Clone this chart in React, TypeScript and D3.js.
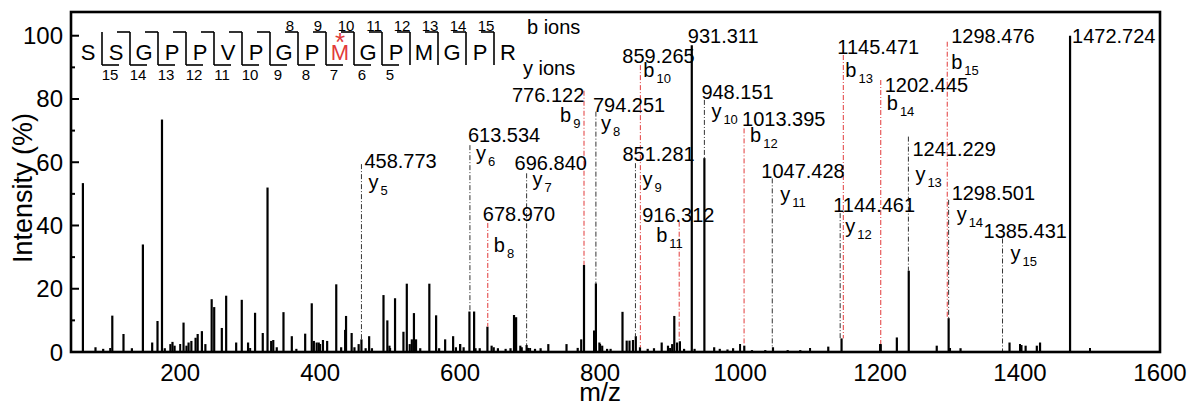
import React, {useEffect, useRef} from 'react';
import * as d3 from 'd3';

// MS/MS peak list: [m/z, relative intensity %]
const peaks: [number, number][] = [
  [61, 53.4], [79, 1.5], [90, 1], [103, 11.5], [119, 5.7], [131, 1.2], [146.7, 34], [160, 3], [167.6, 9.8],
  [174, 73.5], [178, 1.2], [186, 2.5], [189, 3.2], [192, 2], [204.8, 9.3], [209, 2], [212, 3], [216, 3.5],
  [222, 4.5], [225, 5.7], [231, 6.6], [236, 2.5], [245, 16.7], [248.6, 14.2], [259.5, 7.6], [265.7, 17.8],
  [280, 3], [288, 16.5], [297, 3], [307, 12.4], [318, 6], [324.8, 52], [330, 3.5], [333, 3.8], [338, 1.5],
  [347.6, 12.6], [359.5, 5], [366, 1], [378.6, 5.8], [388, 15.4], [391, 3.5], [395, 3], [398, 3], [404, 3.8],
  [410, 3.5], [423, 21.4], [430, 1.5], [435.7, 7], [437, 11.4], [445, 6], [449, 1.5], [455, 2.5], [459, 4],
  [465, 1.2], [470, 5], [474, 1.2], [490.5, 18], [496, 10], [499, 2], [507, 17], [519, 6.4], [523.8, 21.6],
  [528, 2.5], [531, 4], [534, 12.3], [537, 4], [543, 1.2], [556, 21.6], [565.7, 11.6], [570, 1.2],
  [578.6, 4], [590, 5], [594, 1.5], [600, 2.5], [605, 1.5], [613.3, 12.8], [620, 12.8], [622, 1.2],
  [628, 1.2], [639, 8], [645, 2], [648, 1.5], [654, 1.2], [665, 1], [672, 1.2], [677, 11.7], [680, 11],
  [686, 2], [688, 1.5], [695, 2.2], [697, 1.3], [707, 1], [715, 1.2], [726, 2.5], [752, 2.5], [768, 1.3],
  [773, 4], [777, 27.5], [791.4, 6.8], [794, 21.7], [799, 3], [803, 2], [810, 1], [815, 1], [832, 12.7],
  [838, 3.6], [842, 3.6], [847, 3.8], [851, 5], [857, 1.5], [868, 1], [877, 1.2], [888, 3], [897, 2],
  [903, 2.5], [906, 11.4], [910, 3], [914, 3.4], [920, 1], [931, 97], [935, 1], [949, 61.3], [963, 1.5],
  [971, 1], [982, 0.8], [990, 1.2], [1006, 2], [1017, 0.6], [1036, 0.6], [1047, 1.5], [1068, 0.6],
  [1086, 0.6], [1126, 1.7], [1145, 4.3], [1201, 2.5], [1224, 4.6], [1241, 25.7], [1281, 2], [1298, 10.7],
  [1315, 1.2], [1385, 3], [1402, 2.2], [1408, 2], [1424, 2], [1428.6, 3], [1471.5, 100]
];

// annotated fragments: where the marker line sits, its top (%), the label and the ion name
const annotations = [
  {mz: 459, tip: 59.4, text: '458.773', ion: 'y', num: '5'},
  {mz: 614, tip: 65.4, text: '613.534', ion: 'y', num: '6'},
  {mz: 695, tip: 56.5, text: '696.840', ion: 'y', num: '7'},
  {mz: 639.5, tip: 40.8, text: '678.970', ion: 'b', num: '8'},
  {mz: 777, tip: 82.6, text: '776.122', ion: 'b', num: '9'},
  {mz: 794, tip: 76, text: '794.251', ion: 'y', num: '8'},
  {mz: 850.5, tip: 59.7, text: '851.281', ion: 'y', num: '9'},
  {mz: 857.5, tip: 90.7, text: '859.265', ion: 'b', num: '10'},
  {mz: 913, tip: 41.2, text: '916.312', ion: 'b', num: '11'},
  {mz: 931, tip: 97, text: '931.311', ion: '', num: ''},
  {mz: 949, tip: 79.7, text: '948.151', ion: 'y', num: '10'},
  {mz: 1005.7, tip: 70.7, text: '1013.395', ion: 'b', num: '12'},
  {mz: 1046, tip: 54.9, text: '1047.428', ion: 'y', num: '11'},
  {mz: 1143, tip: 43.9, text: '1144.461', ion: 'y', num: '12'},
  {mz: 1147.5, tip: 93.9, text: '1145.471', ion: 'b', num: '13'},
  {mz: 1201, tip: 86, text: '1202.445', ion: 'b', num: '14'},
  {mz: 1240.5, tip: 68.1, text: '1241.229', ion: 'y', num: '13'},
  {mz: 1296, tip: 98.1, text: '1298.476', ion: 'b', num: '15'},
  {mz: 1298, tip: 48.1, text: '1298.501', ion: 'y', num: '14'},
  {mz: 1375, tip: 35.9, text: '1385.431', ion: 'y', num: '15'},
  {mz: 1471.5, tip: 100, text: '1472.724', ion: '', num: ''}
];

// label placement (px) relative to the line top: [number dx, number baseline dy, ion dx, ion baseline dy]
const labelLayout = [
  [3, 4, 7, 25], [-2, -3, 6, 15], [-12, -3, 6, 13], [-5, -2, 6, 29], [-72, 11, -24, 31],
  [-3, 0, 5, 18], [-13, -2, 7, 23], [-18, -2, 3, 12], [-37, 0, -23, 20], [-4, -2, 0, 0],
  [-3, -1, 7, 18], [-2, -2, 6, 14], [-11, 0, 8, 23], [-7, -1, 5, 20], [-6, -1, 2, 22],
  [4, 12, 6, 30], [4, 19, 7, 44], [4, 1, 4, 27], [3, 0, 8, 21], [-19, 0, 8, 22], [2, 7, 0, 0]
];

// peptide sequence and fragment marks
const residues = ['S', 'S', 'G', 'P', 'P', 'V', 'P', 'G', 'P', 'M', 'G', 'P', 'M', 'G', 'P', 'R'];
const modifiedResidue = 9;
const bHookSites = [2, 3, 4, 5, 6, 7, 8, 9, 10, 11, 12, 13, 14, 15];
const bNumberSites = [8, 9, 10, 11, 12, 13, 14, 15];
const yHookSites = [1, 2, 3, 4, 5, 6, 7, 8, 9, 10, 11];

const xTicks = [200, 400, 600, 800, 1000, 1200, 1400, 1600];
const xMinorTicks = [100, 300, 500, 700, 900, 1100, 1300, 1500];
const yTicks = [0, 20, 40, 60, 80, 100];
const yMinorTicks = [10, 30, 50, 70, 90];

const FONT = "Arial, 'Liberation Sans', sans-serif";
const RED = '#e23a3a';

export default function App() {
  const svgRef = useRef(null);
  const W = 1195, H = 407;
  const left = 71, right = 1160, top = 12, bottom = 352;

  useEffect(() => {
    const svg = d3.select(svgRef.current);
    svg.selectAll('*').remove();

    const x = d3.scaleLinear().domain([44, 1600]).range([left, right]);
    const y = d3.scaleLinear().domain([0, 107.5]).range([bottom, top]);

    // spectrum sticks
    svg.append('g')
      .selectAll('line')
      .data(peaks)
      .join('line')
      .attr('x1', d => x(d[0])).attr('x2', d => x(d[0]))
      .attr('y1', y(0)).attr('y2', d => y(d[1]))
      .attr('stroke', '#000')
      .attr('stroke-width', 2.2);

    // fragment marker lines
    const baseOf = (mz: number) => {
      const near = peaks.filter(p => Math.abs(p[0] - mz) <= 4);
      return near.length ? d3.max(near, p => p[1]) as number : 0;
    };
    const marked = annotations.filter(a => a.ion);
    svg.append('g')
      .selectAll('line')
      .data(marked)
      .join('line')
      .attr('x1', d => x(d.mz)).attr('x2', d => x(d.mz))
      .attr('y1', d => y(d.tip)).attr('y2', d => y(baseOf(d.mz)))
      .attr('stroke', d => d.ion === 'b' ? RED : '#333')
      .attr('stroke-width', 1)
      .attr('stroke-dasharray', '5,2,1,2');

    // labels
    const lab = svg.append('g').attr('font-family', FONT).attr('fill', '#000');
    annotations.forEach((a, i) => {
      const [dxN, dyN, dxI, dyI] = labelLayout[i];
      const lx = x(a.mz), ly = y(a.tip);
      lab.append('text')
        .attr('x', lx + dxN).attr('y', ly + dyN)
        .attr('font-size', 20)
        .text(a.text);
      if (a.ion) {
        const t = lab.append('text')
          .attr('x', lx + dxI).attr('y', ly + dyI)
          .attr('font-size', 20);
        t.append('tspan').text(a.ion);
        t.append('tspan').attr('font-size', 13).attr('dx', 2).attr('dy', 6).text(a.num);
      }
    });

    // frame
    svg.append('rect')
      .attr('x', left).attr('y', top)
      .attr('width', right - left).attr('height', bottom - top)
      .attr('fill', 'none').attr('stroke', '#000').attr('stroke-width', 2.6);

    // ticks (inward)
    const tk = svg.append('g').attr('stroke', '#000').attr('stroke-width', 2);
    tk.selectAll('.xt').data(xTicks).join('line').attr('class', 'xt')
      .attr('x1', d => x(d)).attr('x2', d => x(d)).attr('y1', bottom).attr('y2', bottom - 8);
    tk.selectAll('.xm').data(xMinorTicks).join('line').attr('class', 'xm')
      .attr('x1', d => x(d)).attr('x2', d => x(d)).attr('y1', bottom).attr('y2', bottom - 4);
    tk.selectAll('.yt').data(yTicks).join('line').attr('class', 'yt')
      .attr('y1', d => y(d)).attr('y2', d => y(d)).attr('x1', left).attr('x2', left + 8);
    tk.selectAll('.ym').data(yMinorTicks).join('line').attr('class', 'ym')
      .attr('y1', d => y(d)).attr('y2', d => y(d)).attr('x1', left).attr('x2', left + 4);

    const axLab = svg.append('g').attr('font-family', FONT).attr('font-size', 24).attr('fill', '#000');
    axLab.selectAll('.xl').data(xTicks).join('text').attr('class', 'xl')
      .attr('x', d => x(d)).attr('y', 381).attr('text-anchor', 'middle').text(d => d);
    axLab.selectAll('.yl').data(yTicks).join('text').attr('class', 'yl')
      .attr('x', 63).attr('y', d => y(d) + 8.5).attr('text-anchor', 'end').text(d => d);

    svg.append('text')
      .attr('x', x(800)).attr('y', 401)
      .attr('text-anchor', 'middle')
      .attr('font-family', FONT).attr('font-size', 26)
      .text('m/z');
    svg.append('text')
      .attr('transform', `translate(32,${(top + bottom) / 2 + 6}) rotate(-90)`)
      .attr('text-anchor', 'middle')
      .attr('font-family', FONT).attr('font-size', 27)
      .text('Intensity (%)');

    // peptide sequence with fragmentation marks
    const sx = d3.scalePoint<number>().domain(d3.range(residues.length)).range([88, 508]);
    const sep = (k: number) => ((sx(k - 1) as number) + (sx(k) as number)) / 2;
    const seq = svg.append('g').attr('font-family', FONT);
    seq.selectAll('text.res').data(residues).join('text').attr('class', 'res')
      .attr('x', (d, i) => sx(i) as number).attr('y', 60)
      .attr('text-anchor', 'middle').attr('font-size', 22)
      .attr('fill', (d, i) => i === modifiedResidue ? RED : '#000')
      .text(d => d);
    seq.append('text')
      .attr('x', sx(modifiedResidue) as number).attr('y', 51)
      .attr('text-anchor', 'middle').attr('font-size', 26).attr('fill', RED)
      .text('*');

    const seps = d3.range(1, residues.length);
    const marks = seq.append('g').attr('stroke', '#000').attr('stroke-width', 1.6).attr('fill', 'none');
    marks.selectAll('.v').data(seps).join('line').attr('class', 'v')
      .attr('x1', d => sep(d)).attr('x2', d => sep(d)).attr('y1', 32).attr('y2', 65);
    marks.selectAll('.bh').data(bHookSites).join('line').attr('class', 'bh')
      .attr('x1', d => sep(d) - 13).attr('x2', d => sep(d)).attr('y1', 32).attr('y2', 32);
    marks.selectAll('.yh').data(yHookSites).join('line').attr('class', 'yh')
      .attr('x1', d => sep(d)).attr('x2', d => sep(d) + 17).attr('y1', 65).attr('y2', 65);

    seq.selectAll('text.bn').data(bNumberSites).join('text').attr('class', 'bn')
      .attr('x', d => sep(d) - 8).attr('y', 31)
      .attr('text-anchor', 'middle').attr('font-size', 15)
      .text(d => d);
    seq.selectAll('text.yn').data(yHookSites).join('text').attr('class', 'yn')
      .attr('x', d => sep(d) + 8).attr('y', 80)
      .attr('text-anchor', 'middle').attr('font-size', 15)
      .text(d => residues.length - d);

    seq.append('text').attr('x', 527).attr('y', 34).attr('font-size', 20).text('b ions');
    seq.append('text').attr('x', 523).attr('y', 75).attr('font-size', 20).text('y ions');
  });

  return (
    <svg
      ref={svgRef}
      width={W}
      height={H}
      style={{position: 'absolute', left: 0, top: 0, background: '#fff'}}
    />
  );
}
